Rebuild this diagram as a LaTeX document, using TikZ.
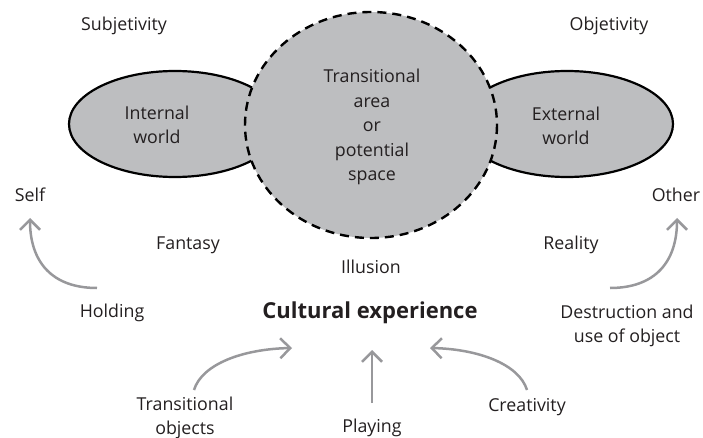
\documentclass[tikz,border=0pt]{standalone}
\usepackage{fontspec}
\setmainfont{Open Sans}
\usetikzlibrary{arrows.meta}
\definecolor{fillg}{RGB}{189,190,192}
\definecolor{arrg}{RGB}{152,152,155}
\definecolor{txt}{RGB}{35,31,32}
\begin{document}
\begin{tikzpicture}[x=1pt,y=-1pt,
  lbl/.style={text=txt, font=\fontsize{17.8}{24.5}\selectfont, align=center, inner sep=0pt},
  bold/.style={text=txt, font=\fontsize{22}{26}\selectfont\bfseries, inner sep=0pt},
  world/.style={fill=fillg, draw=black, line width=2.2pt},
  area/.style={fill=fillg, draw=black, line width=2.4pt, dash pattern=on 9pt off 6pt},
  arr/.style={draw=arrg, line width=2.5pt, -{Straight Barb[length=10pt,width=20pt]}}]
\useasboundingbox (0,0) rectangle (703,438);
% shapes
\draw[world] (175,124) ellipse [x radius=106, y radius=53];
\draw[world] (567,124) ellipse [x radius=106, y radius=53];
\draw[area] (371,125) ellipse [x radius=126, y radius=113];
% labels
\node[lbl] (subj) at (124,26) {Subjetivity};
\node[lbl] (obj) at (609,26) {Objetivity};
\node[lbl] (intw) at (157,125) {Internal\\world};
\node[lbl] (extw) at (566,126) {External\\world};
\node[lbl] (trans) at (372,127) {Transitional\\area\\or\\potential\\space};
\node[lbl] (self) at (30,195) {Self};
\node[lbl] (other) at (676,195) {Other};
\node[lbl] (fantasy) at (188,245) {Fantasy};
\node[lbl] (reality) at (571,245) {Reality};
\node[lbl] (illusion) at (371,267) {Illusion};
\node[bold] (cult) at (370,313) {Cultural experience};
\node[lbl] (holding) at (112,313) {Holding};
\node[lbl] (destr) at (627,326) {Destruction and\\use of object};
\node[lbl] (tobj) at (185,418) {Transitional\\objects};
\node[lbl] (play) at (372,428) {Playing};
\node[lbl] (creat) at (527,407) {Creativity};
% arrow ends
\coordinate (selfS) at (97,288);
\coordinate (selfT) at (30,218);
\coordinate (othS) at (610,288);
\coordinate (othT) at (677,218);
\coordinate (tobjS) at (194,390);
\coordinate (tobjT) at (292,348);
\coordinate (creS) at (527,390);
\coordinate (creT) at (430,348);
\coordinate (playS) at (372,403);
\coordinate (playT) at (372,350);
% arrows
\draw[arr] (selfS) .. controls (52,288) and (30,262) .. (selfT);
\draw[arr] (othS) .. controls (655,288) and (677,262) .. (othT);
\draw[arr] (tobjS) .. controls (202,364) and (243,349) .. (tobjT);
\draw[arr] (creS) .. controls (519,364) and (478,349) .. (creT);
\draw[arr] (playS) -- (playT);
\end{tikzpicture}
\end{document}
